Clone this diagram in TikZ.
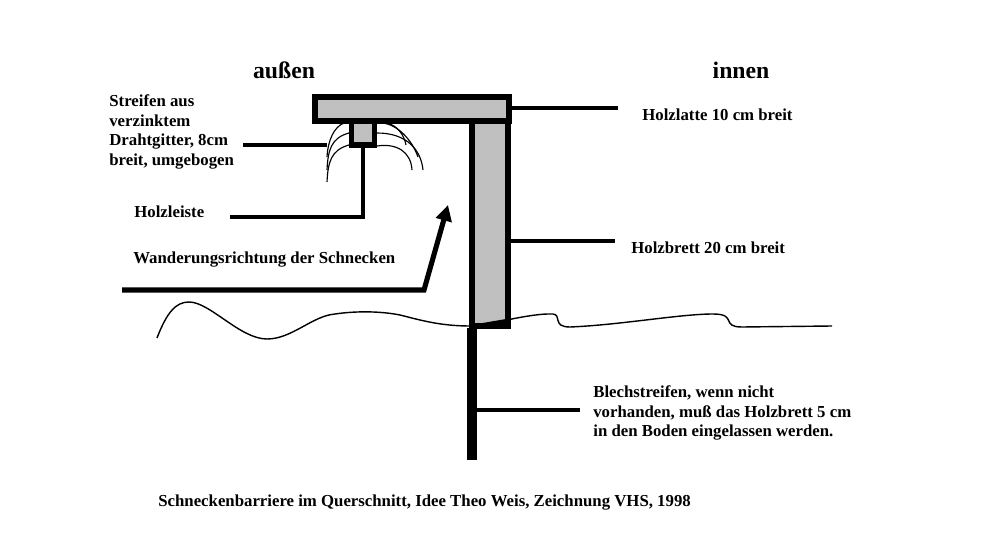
\documentclass[tikz,border=0pt]{standalone}
\usepackage{fontspec}
\setmainfont{Liberation Serif}
\usetikzlibrary{arrows.meta,positioning}
\definecolor{wood}{RGB}{192,192,192}
\tikzset{
    woodbox/.style={rectangle, draw=black, fill=wood, line width=2.9pt, inner sep=0pt, outer sep=0pt},
    leader/.style={line width=2pt},
    mesh/.style={line width=0.65pt},
    ground/.style={line width=0.8pt},
    caption/.style={font=\fontsize{9.55}{11.2}\selectfont\bfseries, align=left, inner sep=0pt},
    heading/.style={font=\fontsize{13.5}{16}\selectfont\bfseries, inner sep=0pt}
}
\begin{document}
\begin{tikzpicture}[x=0.02cm, y=-0.02cm]
    \useasboundingbox (0,0) rectangle (1000,550);

    % Ground line
    \draw[ground] (157,338) .. controls (167,312) and (176,302) .. (189,302)
        .. controls (210,302) and (240,339) .. (267,339)
        .. controls (292,339) and (312,316) .. (335,314)
        .. controls (355,311) and (380,311) .. (400,315)
        .. controls (420,320) and (440,326) .. (470,326)
        .. controls (490,325) and (530,313) .. (553,314)
        .. controls (562,315) and (552,327) .. (570,327)
        .. controls (620,325) and (680,314) .. (713,314)
        .. controls (738,314) and (720,327) .. (742,327)
        -- (832,326);

    % Wood parts
    \node[woodbox, minimum width=0.02cm*36, minimum height=0.02cm*206, anchor=north west] (board) at (472,120) {};
    \node[woodbox, minimum width=0.02cm*23, minimum height=0.02cm*25, anchor=north west] (strip) at (351.5,120) {};
    \node[woodbox, minimum width=0.02cm*194, minimum height=0.02cm*24, anchor=north west] (lath) at (315,97) {};
    \fill (469.5,323) -- (474,324.5) -- (506,319) -- (510.5,319) -- (510.5,328) -- (469.5,328) -- cycle;

    % Sheet metal in the soil
    \node[rectangle, fill=black, minimum width=0.02cm*10, minimum height=0.02cm*132, inner sep=0pt, outer sep=0pt, anchor=north] (sheet) at (472,328) {};

    % Wire mesh
    \draw[mesh] (327,182) .. controls (328,162) and (331,150) .. (349,145);
    \draw[mesh] (327,170) .. controls (328,150) and (331,138) .. (349,133);
    \draw[mesh] (327,157) .. controls (328,140) and (334,127) .. (344,123);
    \draw[mesh] (377,146) .. controls (397,143) and (411,152) .. (412,170);
    \draw[mesh] (377,133) .. controls (407,133) and (421,150) .. (423,170);
    \draw[mesh] (383,123) .. controls (398,125) and (412,140) .. (418,157);
    \draw[mesh] (387,123) .. controls (398,126) and (404,135) .. (406,145);

    % Labels
    \node[heading] (outside) at (284,70) {außen};
    \node[heading] (inside) at (741,70) {innen};
    \node[caption, anchor=west] (meshlabel) at (109,132) {Streifen aus\\verzinktem\\Drahtgitter, 8cm\\breit, umgebogen};
    \node[caption, anchor=west] (striplabel) at (134,212) {Holzleiste};
    \node[caption, anchor=west] (walklabel) at (133,260) {Wanderungsrichtung der Schnecken};
    \node[caption, anchor=west] (lathlabel) at (642,115) {Holzlatte 10 cm breit};
    \node[caption, anchor=west] (boardlabel) at (631,248) {Holzbrett 20 cm breit};
    \node[caption, anchor=west] (sheetlabel) at (593,413) {Blechstreifen, wenn nicht\\vorhanden, muß das Holzbrett 5 cm\\in den Boden eingelassen werden.};
    \node[caption, anchor=west] (title) at (158,503) {Schneckenbarriere im Querschnitt, Idee Theo Weis, Zeichnung VHS, 1998};

    % Connecting lines
    \coordinate (lathend) at (618,108);
    \coordinate (boardend) at (615,241);
    \coordinate (sheetend) at (580,410);
    \coordinate (meshend) at (243,145);
    \coordinate (meshstop) at (327,145);
    \coordinate (stripend) at (230,217);
    \coordinate (walkend) at (122,290);
    \coordinate (walkbend) at (424,290);
    \coordinate (walktip) at (448,205);
    \draw[leader] (lath.east |- lathend) -- (lathend);
    \draw[leader] (board.east |- boardend) -- (boardend);
    \draw[leader] (sheet.east |- sheetend) -- (sheetend);
    \draw[leader] (meshend) -- (meshstop);
    \draw[leader] (stripend) -| (strip.south);
    \draw[line width=2.9pt, -{Triangle[length=9pt, width=9pt]}] (walkend) -- (walkbend) -- (walktip);
\end{tikzpicture}
\end{document}
